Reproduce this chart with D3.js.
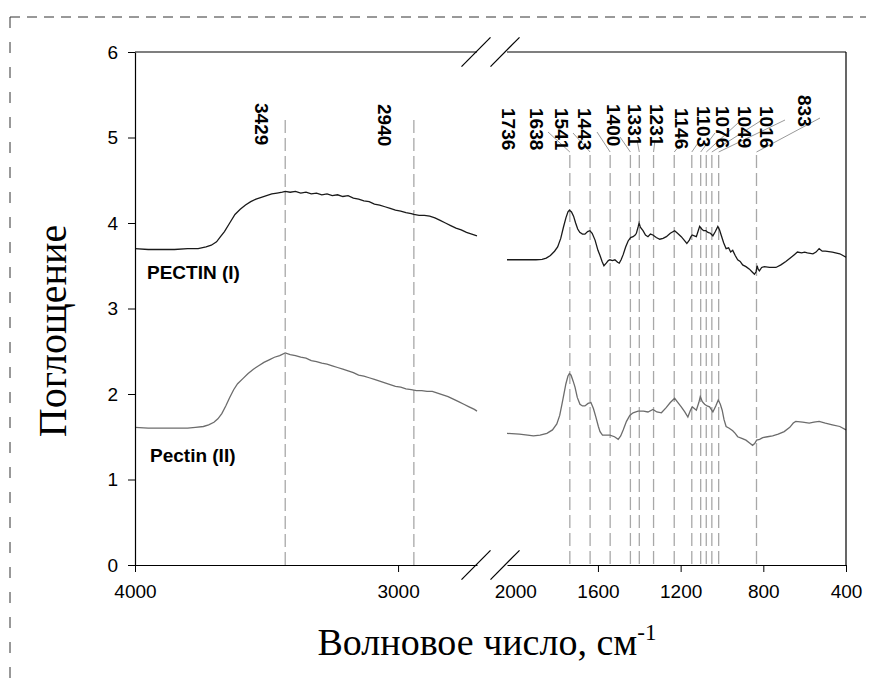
<!DOCTYPE html>
<html>
<head>
<meta charset="utf-8">
<script src="https://cdn.jsdelivr.net/npm/d3@7"></script>
<style>
  body { margin: 0; background: #fff; }
  svg { display: block; }
  .tick text { font-family: "Liberation Sans", Arial, sans-serif; font-size: 19px; fill: #000; }
</style>
</head>
<body>
<div id="chart"></div>
<script>
// wavenumber (cm-1), absorbance
var pectin1Left = [
  [4000,3.70],[3950,3.69],[3900,3.69],[3850,3.69],[3800,3.70],[3760,3.70],[3730,3.72],[3710,3.74],
  [3690,3.78],[3675,3.84],[3660,3.90],[3640,4.00],[3620,4.10],[3600,4.16],[3580,4.21],[3560,4.25],
  [3540,4.28],[3520,4.30],[3500,4.32],[3480,4.34],[3460,4.35],[3440,4.36],[3429,4.37],[3410,4.36],
  [3390,4.37],[3370,4.35],[3350,4.36],[3330,4.34],[3310,4.35],[3290,4.33],[3270,4.34],[3250,4.32],
  [3230,4.33],[3210,4.31],[3190,4.32],[3170,4.29],[3150,4.28],[3130,4.26],[3110,4.25],[3090,4.22],
  [3070,4.21],[3050,4.19],[3030,4.17],[3010,4.15],[2990,4.14],[2970,4.12],[2950,4.11],[2940,4.10],
  [2920,4.09],[2900,4.09],[2880,4.08],[2860,4.06],[2840,4.03],[2820,4.00],[2800,3.97],[2780,3.94],
  [2760,3.92],[2740,3.89],[2720,3.87],[2700,3.85]
];
var pectin2Left = [
  [4000,1.61],[3950,1.60],[3900,1.60],[3850,1.60],[3800,1.60],[3770,1.61],[3740,1.62],[3720,1.64],
  [3700,1.67],[3685,1.71],[3670,1.77],[3655,1.86],[3640,1.96],[3625,2.05],[3610,2.12],[3590,2.18],
  [3570,2.24],[3550,2.29],[3530,2.33],[3510,2.37],[3490,2.40],[3470,2.43],[3450,2.45],[3429,2.48],
  [3410,2.46],[3390,2.45],[3370,2.43],[3350,2.42],[3330,2.39],[3310,2.38],[3290,2.36],[3270,2.35],
  [3250,2.33],[3230,2.31],[3210,2.29],[3190,2.27],[3170,2.25],[3150,2.22],[3130,2.21],[3110,2.19],
  [3090,2.17],[3070,2.15],[3050,2.13],[3030,2.11],[3010,2.09],[2990,2.08],[2970,2.06],[2950,2.05],
  [2930,2.04],[2910,2.04],[2890,2.03],[2870,2.03],[2850,2.01],[2830,1.99],[2810,1.97],[2790,1.94],
  [2770,1.91],[2750,1.88],[2730,1.85],[2710,1.82],[2700,1.80]
];
var pectin1Right = [
  [2040,3.57],[1900,3.57],[1870,3.575],[1850,3.59],[1830,3.62],[1810,3.67],[1795,3.72],[1780,3.82],
  [1767,3.95],[1755,4.06],[1745,4.13],[1738,4.15],[1728,4.13],[1718,4.08],[1708,4.00],[1698,3.93],
  [1688,3.89],[1675,3.87],[1663,3.87],[1650,3.90],[1639,3.91],[1628,3.88],[1614,3.80],[1600,3.68],
  [1590,3.62],[1580,3.55],[1571,3.50],[1560,3.53],[1550,3.56],[1542,3.57],[1530,3.56],[1518,3.57],
  [1505,3.54],[1497,3.53],[1488,3.57],[1478,3.63],[1466,3.72],[1454,3.79],[1442,3.83],[1430,3.84],
  [1420,3.86],[1414,3.88],[1405,3.96],[1401,4.00],[1395,3.95],[1382,3.91],[1370,3.86],[1358,3.84],
  [1346,3.87],[1334,3.86],[1318,3.83],[1301,3.81],[1285,3.82],[1269,3.84],[1250,3.88],[1229,3.91],
  [1215,3.88],[1197,3.84],[1183,3.80],[1170,3.76],[1158,3.80],[1150,3.84],[1144,3.86],[1134,3.85],
  [1124,3.84],[1116,3.90],[1108,3.96],[1098,3.93],[1089,3.91],[1078,3.91],[1068,3.89],[1056,3.88],
  [1044,3.85],[1032,3.90],[1020,3.96],[1012,3.92],[1004,3.86],[992,3.77],[980,3.70],[968,3.71],
  [958,3.66],[948,3.68],[936,3.62],[924,3.57],[912,3.55],[900,3.51],[884,3.49],[867,3.46],
  [855,3.43],[843,3.40],[835,3.43],[830,3.50],[825,3.46],[819,3.44],[808,3.48],[795,3.49],
  [770,3.48],[739,3.48],[715,3.51],[691,3.55],[665,3.60],[650,3.63],[635,3.66],[615,3.65],
  [600,3.66],[587,3.65],[560,3.64],[545,3.66],[530,3.70],[515,3.67],[500,3.67],[466,3.66],
  [430,3.64],[400,3.60]
];
var pectin2Right = [
  [2040,1.54],[1980,1.53],[1940,1.52],[1912,1.51],[1880,1.52],[1847,1.54],[1820,1.58],[1799,1.65],
  [1785,1.75],[1775,1.87],[1767,1.97],[1755,2.12],[1745,2.21],[1738,2.24],[1730,2.22],[1720,2.15],
  [1711,2.08],[1700,1.96],[1687,1.88],[1675,1.86],[1663,1.86],[1648,1.89],[1634,1.90],[1622,1.83],
  [1610,1.73],[1598,1.62],[1590,1.56],[1578,1.52],[1560,1.52],[1542,1.52],[1520,1.50],[1502,1.47],
  [1490,1.51],[1478,1.58],[1462,1.68],[1446,1.75],[1430,1.78],[1406,1.80],[1380,1.80],[1358,1.79],
  [1334,1.82],[1315,1.79],[1293,1.78],[1270,1.84],[1250,1.90],[1229,1.95],[1213,1.90],[1197,1.85],
  [1180,1.79],[1165,1.73],[1154,1.80],[1144,1.85],[1134,1.83],[1124,1.81],[1112,1.90],[1105,1.97],
  [1095,1.91],[1084,1.88],[1072,1.86],[1060,1.85],[1044,1.79],[1030,1.86],[1018,1.93],[1008,1.88],
  [999,1.81],[990,1.70],[980,1.62],[965,1.60],[948,1.57],[936,1.54],[924,1.50],[904,1.48],
  [884,1.46],[868,1.43],[852,1.40],[842,1.42],[832,1.46],[818,1.47],[803,1.49],[780,1.50],
  [755,1.51],[728,1.53],[699,1.56],[672,1.61],[655,1.66],[643,1.68],[610,1.67],[578,1.66],
  [555,1.67],[530,1.68],[500,1.66],[466,1.64],[430,1.62],[400,1.58]
];
var leftPeaks = [3429, 2940];
var rightPeaks = [1736, 1638, 1541, 1443, 1400, 1331, 1231, 1146, 1103, 1076, 1049, 1016, 833];
var yTicks = [0, 1, 2, 3, 4, 5, 6];
var xTicksLeft = [4000, 3000];
var xTicksRight = [2000, 1600, 1200, 800, 400];

// label placement (pixels): left edge, top, leader end x, leader end y
var leftLabelPos = [[255, 103], [378, 104]];
var rightLabelPos = [
  [502,108,548,132],[530,108,573,133],[555,108,597,132],[578,108,620,137],[607,104,637,140],
  [628,104,655,140],[650,104,680,145],[675,108,698,143],[697,106,715,133],[716,106,738,123],
  [738,106,762,120],[760,106,785,120],[798,95,820,118]
];

var width = 876, height = 689;
var plotTop = 52, plotBottom = 565;

var svg = d3.select("#chart").append("svg")
    .attr("width", width)
    .attr("height", height);

var xL = d3.scaleLinear().domain([4000, 2700]).range([135, 477]);
var xR = d3.scaleLinear().domain([2040, 400]).range([507, 846]);
var y = d3.scaleLinear().domain([0, 6]).range([plotBottom, plotTop]);

// dashed outer frame
svg.append("line").attr("x1", 10).attr("y1", 17).attr("x2", 866).attr("y2", 17)
    .attr("stroke", "#333").attr("stroke-dasharray", "10,7");
svg.append("line").attr("x1", 10).attr("y1", 17).attr("x2", 10).attr("y2", 689)
    .attr("stroke", "#333").attr("stroke-dasharray", "11,14");

// peak lines
var peakG = svg.append("g")
    .attr("stroke", "#a8a8a8")
    .attr("stroke-width", 1.3)
    .attr("stroke-dasharray", "13,5");
peakG.selectAll(".pl").data(leftPeaks).enter().append("line")
    .attr("x1", function(d) { return xL(d); }).attr("x2", function(d) { return xL(d); })
    .attr("y1", 120).attr("y2", plotBottom);
peakG.selectAll(".pr").data(rightPeaks).enter().append("line")
    .attr("x1", function(d) { return xR(d); }).attr("x2", function(d) { return xR(d); })
    .attr("y1", 155).attr("y2", plotBottom);

// leaders
svg.append("g").selectAll("line").data(rightPeaks).enter().append("line")
    .attr("x1", function(d) { return xR(d); })
    .attr("y1", 152)
    .attr("x2", function(d, i) { return rightLabelPos[i][2]; })
    .attr("y2", function(d, i) { return rightLabelPos[i][3]; })
    .attr("stroke", "#999")
    .attr("stroke-width", 1);

// peak labels (rotated, reading downwards)
function peakLabel(txt, pos) {
  svg.append("text")
      .attr("transform", "translate(" + pos[0] + "," + pos[1] + ") rotate(90)")
      .attr("font-family", "'Liberation Sans', Arial, sans-serif")
      .attr("font-size", 19)
      .attr("font-weight", "bold")
      .text(txt);
}
leftPeaks.forEach(function(d, i) { peakLabel(d, leftLabelPos[i]); });
rightPeaks.forEach(function(d, i) { peakLabel(d, rightLabelPos[i]); });

// curves
var lineL = d3.line().x(function(d) { return xL(d[0]); }).y(function(d) { return y(d[1]); });
var lineR = d3.line().x(function(d) { return xR(d[0]); }).y(function(d) { return y(d[1]); });
[[pectin1Left, lineL, "#1a1a1a"], [pectin1Right, lineR, "#1a1a1a"],
 [pectin2Left, lineL, "#6c6c6c"], [pectin2Right, lineR, "#6c6c6c"]].forEach(function(s) {
  svg.append("path").datum(s[0])
      .attr("d", s[1])
      .attr("fill", "none")
      .attr("stroke", s[2])
      .attr("stroke-width", 1.3);
});

// axes
svg.append("g")
    .attr("transform", "translate(135,0)")
    .call(d3.axisLeft(y).tickValues(yTicks).tickFormat(d3.format("d"))
          .tickSize(7).tickSizeOuter(0).tickPadding(10));

svg.append("g")
    .attr("transform", "translate(0," + plotBottom + ")")
    .call(d3.axisBottom(xL).tickValues(xTicksLeft).tickFormat(d3.format("d"))
          .tickSize(7).tickSizeOuter(0).tickPadding(13));

var axR = svg.append("g")
    .attr("transform", "translate(0," + plotBottom + ")")
    .call(d3.axisBottom(xR).tickValues(xTicksRight).tickFormat(d3.format("d"))
          .tickSize(7).tickSizeOuter(0).tickPadding(13));
axR.selectAll(".tick").filter(function(d) { return d === 2000; }).select("line").remove();

svg.selectAll(".domain").attr("stroke", "#000").attr("stroke-width", 1.2);
svg.selectAll(".tick line").attr("stroke", "#000");

// frame top + right
svg.append("line").attr("x1", 135).attr("y1", plotTop).attr("x2", xL.range()[1]).attr("y2", plotTop)
    .attr("stroke", "#000").attr("stroke-width", 1.2);
svg.append("line").attr("x1", xR.range()[0]).attr("y1", plotTop).attr("x2", 846).attr("y2", plotTop)
    .attr("stroke", "#000").attr("stroke-width", 1.2);
svg.append("line").attr("x1", 846).attr("y1", plotTop).attr("x2", 846).attr("y2", plotBottom)
    .attr("stroke", "#000").attr("stroke-width", 1.2);

// axis break marks
[plotTop, plotBottom].forEach(function(yy) {
  [xL.range()[1] - 1, xR.range()[0] - 2].forEach(function(xx) {
    svg.append("line")
        .attr("x1", xx - 14.5).attr("y1", yy + 14.7)
        .attr("x2", xx + 14.5).attr("y2", yy - 14.7)
        .attr("stroke", "#000").attr("stroke-width", 1.2);
  });
});

// series labels
svg.append("text").attr("x", 147).attr("y", 279)
    .attr("font-family", "'Liberation Sans', Arial, sans-serif")
    .attr("font-size", 19).attr("font-weight", "bold")
    .text("PECTIN (I)");
svg.append("text").attr("x", 150).attr("y", 462)
    .attr("font-family", "'Liberation Sans', Arial, sans-serif")
    .attr("font-size", 19).attr("font-weight", "bold")
    .text("Pectin (II)");

// axis titles
svg.append("text")
    .attr("transform", "translate(66,331) rotate(-90)")
    .attr("text-anchor", "middle")
    .attr("font-family", "'Liberation Serif', 'Times New Roman', serif")
    .attr("font-size", 40)
    .text("Поглощение");

var xt = svg.append("text")
    .attr("x", 487).attr("y", 655)
    .attr("text-anchor", "middle")
    .attr("font-family", "'Liberation Serif', 'Times New Roman', serif")
    .attr("font-size", 38);
xt.append("tspan").text("Волновое число, см");
xt.append("tspan").attr("font-size", 23).attr("dy", -15).text("-1");
</script>
</body>
</html>
